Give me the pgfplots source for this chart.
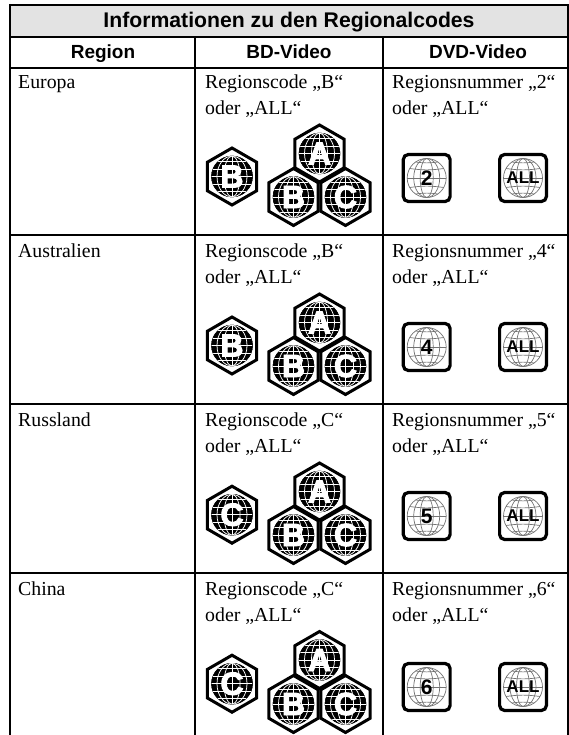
\documentclass[border=0pt]{standalone}
\usepackage{pgfplots}
\pgfplotsset{compat=1.18}
\usepackage{fontspec}
\setmainfont{Liberation Serif}
\newfontfamily\hv{Liberation Sans}
\newfontface\hvfat[FakeBold=3]{Liberation Sans Bold}
\definecolor{hdr}{gray}{0.89}
\definecolor{gl}{gray}{0.45}
\newcommand\hexbody[1]{%
  \draw[black,line width=3pt,line join=miter] (90:28.5)--(30:28.5)--(-30:28.5)--(-90:28.5)--(-150:28.5)--(150:28.5)--cycle;
  \fill[black] (0,0) circle (20.5pt);
  \begin{scope}
  \clip (0,0) circle (20.5pt);
  \foreach \r in {8,15}{\draw[white,line width=.75pt] (0,0) ellipse ({\r pt} and 20.5pt);}
  \draw[white,line width=.75pt] (0,-22)--(0,22);
  \foreach \y in {-15,-7.5,0,7.5,15}{\draw[white,line width=.75pt] (-21,\y)--(21,\y);}
  \end{scope}
  \node[text=white,font=\hvfat\fontsize{32}{32}\selectfont,inner sep=0pt] at (0,0) {#1};
}
\newcommand\dvdbody[2]{%
  \draw[black,line width=3.2pt,rounded corners=5pt] (-23.4,-23.5) rectangle (23.4,23.5);
  \begin{scope}[gl,line width=.7pt]
  \draw (0,0) circle (19.5pt);
  \draw (0,0) ellipse (6.5pt and 19.5pt);
  \draw (0,0) ellipse (13pt and 19.5pt);
  \draw (-19.5,0)--(19.5,0);
  \draw (-17,9.5) to[bend left=8] (17,9.5);
  \draw (-17,-9.5) to[bend right=8] (17,-9.5);
  \draw (-11,16) to[bend left=8] (11,16);
  \draw (-11,-16) to[bend right=8] (11,-16);
  \end{scope}
  \node[text=black,font=\hv\bfseries\fontsize{#2}{#2}\selectfont,inner sep=0pt] at (0,0) {#1};
}
\pgfdeclareplotmark{hexA}{\hexbody{A}}
\pgfdeclareplotmark{hexB}{\hexbody{B}}
\pgfdeclareplotmark{hexC}{\hexbody{C}}
\pgfdeclareplotmark{dvd2}{\dvdbody{2}{21}}
\pgfdeclareplotmark{dvd4}{\dvdbody{4}{21}}
\pgfdeclareplotmark{dvd5}{\dvdbody{5}{21}}
\pgfdeclareplotmark{dvd6}{\dvdbody{6}{21}}
\pgfdeclareplotmark{dvdA}{\dvdbody{ALL}{17}}
\newcommand\bodyfont{\fontsize{19.8}{27}\selectfont}
\newcommand\titlefont{\hv\bfseries\fontsize{21.2}{24}\selectfont}
\newcommand\headfont{\hv\bfseries\fontsize{19}{24}\selectfont}
\begin{document}
\begin{tikzpicture}
\begin{axis}[
  width=569pt,height=735pt,scale only axis,
  xmin=0,xmax=569,ymin=0,ymax=735,y dir=reverse,
  hide axis,clip=true,
  every axis plot/.append style={forget plot},
  table line/.style={black,line width=2pt,no markers},
]
\path (axis cs:0,0) rectangle (axis cs:569,735);
\addplot[fill=hdr,draw=none,no markers] coordinates {(10,5)(568,5)(568,37)(10,37)} \closedcycle;
\addplot[table line] coordinates {(9,5)(568.5,5)};
\addplot[table line] coordinates {(10,37)(568,37)};
\addplot[table line] coordinates {(10,68)(568,68)};
\addplot[table line] coordinates {(10,235)(568,235)};
\addplot[table line] coordinates {(10,404)(568,404)};
\addplot[table line] coordinates {(10,573)(568,573)};
\addplot[table line] coordinates {(10,5)(10,735)};
\addplot[table line] coordinates {(568,5)(568,735)};
\addplot[table line] coordinates {(195,37)(195,735)};
\addplot[table line] coordinates {(382.5,37)(382.5,735)};
\addplot[only marks,mark=hexA] coordinates {(319.5,153.5)(319.5,322.5)(319.5,491.5)(319.5,660)};
\addplot[only marks,mark=hexB] coordinates {(232,176.5)(232,345.5)(293.5,197)(293.5,366)(293.5,535)(293.5,704)};
\addplot[only marks,mark=hexC] coordinates {(232,514.7)(232,683.7)(345.5,197)(345.5,366)(345.5,535)(345.5,704)};
\addplot[only marks,mark=dvd2] coordinates {(426.7,178)};
\addplot[only marks,mark=dvd4] coordinates {(426.7,347)};
\addplot[only marks,mark=dvd5] coordinates {(426.7,516)};
\addplot[only marks,mark=dvd6] coordinates {(426.7,687)};
\addplot[only marks,mark=dvdA] coordinates {(523,178)(523,347)(523,516)(523,687)};
\node[font=\titlefont,anchor=base] at (axis cs:289,28) {Informationen zu den Regionalcodes};
\node[font=\headfont,anchor=base] at (axis cs:103,59) {Region};
\node[font=\headfont,anchor=base] at (axis cs:289,59) {BD-Video};
\node[font=\headfont,anchor=base] at (axis cs:478,59) {DVD-Video};
\node[font=\bodyfont,anchor=base west,inner sep=0pt] at (axis cs:18,89) {Europa};
\node[font=\bodyfont,anchor=base west,inner sep=0pt] at (axis cs:18,257) {Australien};
\node[font=\bodyfont,anchor=base west,inner sep=0pt] at (axis cs:18,426) {Russland};
\node[font=\bodyfont,anchor=base west,inner sep=0pt] at (axis cs:18,595) {China};
\node[font=\bodyfont,anchor=base west,inner sep=0pt] at (axis cs:205,89) {Regionscode „B“};
\node[font=\bodyfont,anchor=base west,inner sep=0pt] at (axis cs:205,115) {oder „ALL“};
\node[font=\bodyfont,anchor=base west,inner sep=0pt] at (axis cs:205,257) {Regionscode „B“};
\node[font=\bodyfont,anchor=base west,inner sep=0pt] at (axis cs:205,283) {oder „ALL“};
\node[font=\bodyfont,anchor=base west,inner sep=0pt] at (axis cs:205,426) {Regionscode „C“};
\node[font=\bodyfont,anchor=base west,inner sep=0pt] at (axis cs:205,452) {oder „ALL“};
\node[font=\bodyfont,anchor=base west,inner sep=0pt] at (axis cs:205,595) {Regionscode „C“};
\node[font=\bodyfont,anchor=base west,inner sep=0pt] at (axis cs:205,621) {oder „ALL“};
\node[font=\bodyfont,anchor=base west,inner sep=0pt] at (axis cs:392,89) {Regionsnummer „2“};
\node[font=\bodyfont,anchor=base west,inner sep=0pt] at (axis cs:392,115) {oder „ALL“};
\node[font=\bodyfont,anchor=base west,inner sep=0pt] at (axis cs:392,257) {Regionsnummer „4“};
\node[font=\bodyfont,anchor=base west,inner sep=0pt] at (axis cs:392,283) {oder „ALL“};
\node[font=\bodyfont,anchor=base west,inner sep=0pt] at (axis cs:392,426) {Regionsnummer „5“};
\node[font=\bodyfont,anchor=base west,inner sep=0pt] at (axis cs:392,452) {oder „ALL“};
\node[font=\bodyfont,anchor=base west,inner sep=0pt] at (axis cs:392,595) {Regionsnummer „6“};
\node[font=\bodyfont,anchor=base west,inner sep=0pt] at (axis cs:392,621) {oder „ALL“};
\end{axis}
\end{tikzpicture}
\end{document}
